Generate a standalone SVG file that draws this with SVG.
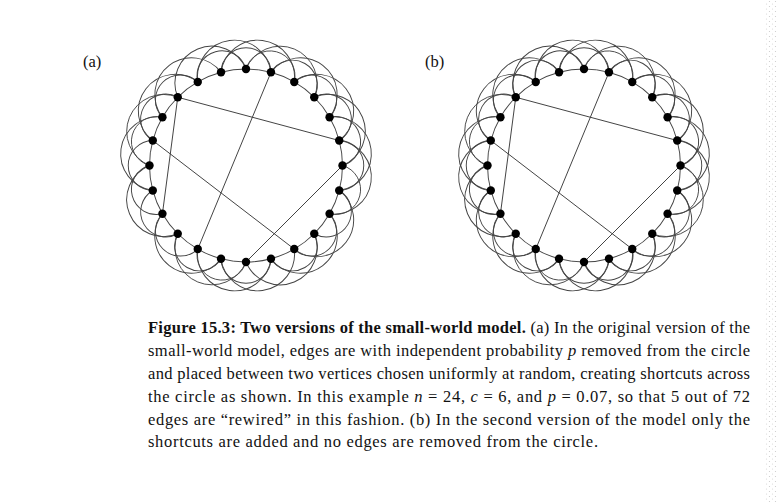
<svg xmlns="http://www.w3.org/2000/svg" xmlns:xlink="http://www.w3.org/1999/xlink" width="778" height="502" viewBox="0 0 778 502">
<style>
.edge{fill:none;stroke:#444;stroke-width:0.95}
.short{fill:none;stroke:#3a3a3a;stroke-width:0.95}
.node{fill:#000}
.lbl{font-family:"Liberation Serif","Times New Roman",serif;font-size:16.5px;fill:#111}
.cap{font-family:"Liberation Serif","Times New Roman",serif;font-size:16.5px;fill:#111}
.b{font-weight:bold}
.i{font-style:italic}
</style>
<defs>
<path id="e1" class="edge" d="M0,-96.5 A96.5,96.5 0 0 1 24.98,-93.21"/>
<path id="e2" class="edge" d="M0,-96.5 A24.98,24.98 0 0 1 48.25,-83.57"/>
<path id="e3" class="edge" d="M0,-96.5 A36.93,36.93 0 0 1 68.24,-68.24"/>
<circle id="dot" r="4.2" class="node"/>
<pattern id="scan" width="6" height="5" patternUnits="userSpaceOnUse">
<circle cx="1.5" cy="1.5" r="0.6" fill="#c8c8c8"/>
<circle cx="4.5" cy="4" r="0.6" fill="#d4d4d4"/>
</pattern>
</defs>
<rect width="778" height="502" fill="#fff"/>
<rect x="764" y="0" width="14" height="502" fill="url(#scan)"/>
<text class="lbl" x="83" y="67">(a)</text>
<text class="lbl" x="425" y="67">(b)</text>

<g id="connectors">
<g id="edges-a" transform="translate(246,165.5)">
<use href="#e1" transform="rotate(0)"/><use href="#e1" transform="rotate(15)"/><use href="#e1" transform="rotate(30)"/><use href="#e1" transform="rotate(45)"/><use href="#e1" transform="rotate(60)"/><use href="#e1" transform="rotate(75)"/><use href="#e1" transform="rotate(90)"/><use href="#e1" transform="rotate(105)"/><use href="#e1" transform="rotate(120)"/><use href="#e1" transform="rotate(135)"/><use href="#e1" transform="rotate(150)"/><use href="#e1" transform="rotate(165)"/><use href="#e1" transform="rotate(180)"/><use href="#e1" transform="rotate(195)"/><use href="#e1" transform="rotate(210)"/><use href="#e1" transform="rotate(225)"/><use href="#e1" transform="rotate(240)"/><use href="#e1" transform="rotate(255)"/><use href="#e1" transform="rotate(270)"/><use href="#e1" transform="rotate(285)"/><use href="#e1" transform="rotate(300)"/><use href="#e1" transform="rotate(315)"/><use href="#e1" transform="rotate(330)"/><use href="#e1" transform="rotate(345)"/>
<use href="#e2" transform="rotate(0)"/><use href="#e2" transform="rotate(15)"/><use href="#e2" transform="rotate(30)"/><use href="#e2" transform="rotate(45)"/><use href="#e2" transform="rotate(60)"/><use href="#e2" transform="rotate(75)"/><use href="#e2" transform="rotate(90)"/><use href="#e2" transform="rotate(105)"/><use href="#e2" transform="rotate(120)"/><use href="#e2" transform="rotate(135)"/><use href="#e2" transform="rotate(165)"/><use href="#e2" transform="rotate(180)"/><use href="#e2" transform="rotate(195)"/><use href="#e2" transform="rotate(210)"/><use href="#e2" transform="rotate(225)"/><use href="#e2" transform="rotate(240)"/><use href="#e2" transform="rotate(255)"/><use href="#e2" transform="rotate(270)"/><use href="#e2" transform="rotate(285)"/><use href="#e2" transform="rotate(300)"/><use href="#e2" transform="rotate(330)"/><use href="#e2" transform="rotate(345)"/>
<use href="#e3" transform="rotate(0)"/><use href="#e3" transform="rotate(15)"/><use href="#e3" transform="rotate(30)"/><use href="#e3" transform="rotate(45)"/><use href="#e3" transform="rotate(60)"/><use href="#e3" transform="rotate(75)"/><use href="#e3" transform="rotate(105)"/><use href="#e3" transform="rotate(120)"/><use href="#e3" transform="rotate(135)"/><use href="#e3" transform="rotate(150)"/><use href="#e3" transform="rotate(165)"/><use href="#e3" transform="rotate(180)"/><use href="#e3" transform="rotate(195)"/><use href="#e3" transform="rotate(225)"/><use href="#e3" transform="rotate(255)"/><use href="#e3" transform="rotate(270)"/><use href="#e3" transform="rotate(285)"/><use href="#e3" transform="rotate(300)"/><use href="#e3" transform="rotate(315)"/><use href="#e3" transform="rotate(330)"/><use href="#e3" transform="rotate(345)"/>
<line class="short" x1="-68.24" y1="-68.24" x2="93.21" y2="-24.98"/>
<line class="short" x1="24.98" y1="-93.21" x2="-48.25" y2="83.57"/>
<line class="short" x1="-93.21" y1="-24.98" x2="48.25" y2="83.57"/>
<line class="short" x1="96.5" y1="0" x2="0" y2="96.5"/>
<line class="short" x1="-83.57" y1="48.25" x2="-68.24" y2="-68.24"/>
</g>
<g id="edges-b" transform="translate(584,165.5)">
<use href="#e1" transform="rotate(0)"/><use href="#e1" transform="rotate(15)"/><use href="#e1" transform="rotate(30)"/><use href="#e1" transform="rotate(45)"/><use href="#e1" transform="rotate(60)"/><use href="#e1" transform="rotate(75)"/><use href="#e1" transform="rotate(90)"/><use href="#e1" transform="rotate(105)"/><use href="#e1" transform="rotate(120)"/><use href="#e1" transform="rotate(135)"/><use href="#e1" transform="rotate(150)"/><use href="#e1" transform="rotate(165)"/><use href="#e1" transform="rotate(180)"/><use href="#e1" transform="rotate(195)"/><use href="#e1" transform="rotate(210)"/><use href="#e1" transform="rotate(225)"/><use href="#e1" transform="rotate(240)"/><use href="#e1" transform="rotate(255)"/><use href="#e1" transform="rotate(270)"/><use href="#e1" transform="rotate(285)"/><use href="#e1" transform="rotate(300)"/><use href="#e1" transform="rotate(315)"/><use href="#e1" transform="rotate(330)"/><use href="#e1" transform="rotate(345)"/>
<use href="#e2" transform="rotate(0)"/><use href="#e2" transform="rotate(15)"/><use href="#e2" transform="rotate(30)"/><use href="#e2" transform="rotate(45)"/><use href="#e2" transform="rotate(60)"/><use href="#e2" transform="rotate(75)"/><use href="#e2" transform="rotate(90)"/><use href="#e2" transform="rotate(105)"/><use href="#e2" transform="rotate(120)"/><use href="#e2" transform="rotate(135)"/><use href="#e2" transform="rotate(150)"/><use href="#e2" transform="rotate(165)"/><use href="#e2" transform="rotate(180)"/><use href="#e2" transform="rotate(195)"/><use href="#e2" transform="rotate(210)"/><use href="#e2" transform="rotate(225)"/><use href="#e2" transform="rotate(240)"/><use href="#e2" transform="rotate(255)"/><use href="#e2" transform="rotate(270)"/><use href="#e2" transform="rotate(285)"/><use href="#e2" transform="rotate(300)"/><use href="#e2" transform="rotate(315)"/><use href="#e2" transform="rotate(330)"/><use href="#e2" transform="rotate(345)"/>
<use href="#e3" transform="rotate(0)"/><use href="#e3" transform="rotate(15)"/><use href="#e3" transform="rotate(30)"/><use href="#e3" transform="rotate(45)"/><use href="#e3" transform="rotate(60)"/><use href="#e3" transform="rotate(75)"/><use href="#e3" transform="rotate(90)"/><use href="#e3" transform="rotate(105)"/><use href="#e3" transform="rotate(120)"/><use href="#e3" transform="rotate(135)"/><use href="#e3" transform="rotate(150)"/><use href="#e3" transform="rotate(165)"/><use href="#e3" transform="rotate(180)"/><use href="#e3" transform="rotate(195)"/><use href="#e3" transform="rotate(210)"/><use href="#e3" transform="rotate(225)"/><use href="#e3" transform="rotate(240)"/><use href="#e3" transform="rotate(255)"/><use href="#e3" transform="rotate(270)"/><use href="#e3" transform="rotate(285)"/><use href="#e3" transform="rotate(300)"/><use href="#e3" transform="rotate(315)"/><use href="#e3" transform="rotate(330)"/><use href="#e3" transform="rotate(345)"/>
<line class="short" x1="-68.24" y1="-68.24" x2="93.21" y2="-24.98"/>
<line class="short" x1="24.98" y1="-93.21" x2="-48.25" y2="83.57"/>
<line class="short" x1="-93.21" y1="-24.98" x2="48.25" y2="83.57"/>
<line class="short" x1="96.5" y1="0" x2="0" y2="96.5"/>
<line class="short" x1="-83.57" y1="48.25" x2="-68.24" y2="-68.24"/>
</g>
</g>

<g id="nodes-a" transform="translate(246,165.5)">
<g id="a-n0"><use href="#dot" x="0" y="-96.5"/></g>
<g id="a-n1"><use href="#dot" x="24.98" y="-93.21"/></g>
<g id="a-n2"><use href="#dot" x="48.25" y="-83.57"/></g>
<g id="a-n3"><use href="#dot" x="68.24" y="-68.24"/></g>
<g id="a-n4"><use href="#dot" x="83.57" y="-48.25"/></g>
<g id="a-n5"><use href="#dot" x="93.21" y="-24.98"/></g>
<g id="a-n6"><use href="#dot" x="96.5" y="0"/></g>
<g id="a-n7"><use href="#dot" x="93.21" y="24.98"/></g>
<g id="a-n8"><use href="#dot" x="83.57" y="48.25"/></g>
<g id="a-n9"><use href="#dot" x="68.24" y="68.24"/></g>
<g id="a-n10"><use href="#dot" x="48.25" y="83.57"/></g>
<g id="a-n11"><use href="#dot" x="24.98" y="93.21"/></g>
<g id="a-n12"><use href="#dot" x="0" y="96.5"/></g>
<g id="a-n13"><use href="#dot" x="-24.98" y="93.21"/></g>
<g id="a-n14"><use href="#dot" x="-48.25" y="83.57"/></g>
<g id="a-n15"><use href="#dot" x="-68.24" y="68.24"/></g>
<g id="a-n16"><use href="#dot" x="-83.57" y="48.25"/></g>
<g id="a-n17"><use href="#dot" x="-93.21" y="24.98"/></g>
<g id="a-n18"><use href="#dot" x="-96.5" y="0"/></g>
<g id="a-n19"><use href="#dot" x="-93.21" y="-24.98"/></g>
<g id="a-n20"><use href="#dot" x="-83.57" y="-48.25"/></g>
<g id="a-n21"><use href="#dot" x="-68.24" y="-68.24"/></g>
<g id="a-n22"><use href="#dot" x="-48.25" y="-83.57"/></g>
<g id="a-n23"><use href="#dot" x="-24.98" y="-93.21"/></g>
</g>
<g id="nodes-b" transform="translate(584,165.5)">
<g id="b-n0"><use href="#dot" x="0" y="-96.5"/></g>
<g id="b-n1"><use href="#dot" x="24.98" y="-93.21"/></g>
<g id="b-n2"><use href="#dot" x="48.25" y="-83.57"/></g>
<g id="b-n3"><use href="#dot" x="68.24" y="-68.24"/></g>
<g id="b-n4"><use href="#dot" x="83.57" y="-48.25"/></g>
<g id="b-n5"><use href="#dot" x="93.21" y="-24.98"/></g>
<g id="b-n6"><use href="#dot" x="96.5" y="0"/></g>
<g id="b-n7"><use href="#dot" x="93.21" y="24.98"/></g>
<g id="b-n8"><use href="#dot" x="83.57" y="48.25"/></g>
<g id="b-n9"><use href="#dot" x="68.24" y="68.24"/></g>
<g id="b-n10"><use href="#dot" x="48.25" y="83.57"/></g>
<g id="b-n11"><use href="#dot" x="24.98" y="93.21"/></g>
<g id="b-n12"><use href="#dot" x="0" y="96.5"/></g>
<g id="b-n13"><use href="#dot" x="-24.98" y="93.21"/></g>
<g id="b-n14"><use href="#dot" x="-48.25" y="83.57"/></g>
<g id="b-n15"><use href="#dot" x="-68.24" y="68.24"/></g>
<g id="b-n16"><use href="#dot" x="-83.57" y="48.25"/></g>
<g id="b-n17"><use href="#dot" x="-93.21" y="24.98"/></g>
<g id="b-n18"><use href="#dot" x="-96.5" y="0"/></g>
<g id="b-n19"><use href="#dot" x="-93.21" y="-24.98"/></g>
<g id="b-n20"><use href="#dot" x="-83.57" y="-48.25"/></g>
<g id="b-n21"><use href="#dot" x="-68.24" y="-68.24"/></g>
<g id="b-n22"><use href="#dot" x="-48.25" y="-83.57"/></g>
<g id="b-n23"><use href="#dot" x="-24.98" y="-93.21"/></g>
</g>

<g id="caption" class="cap">
<text x="148" y="333" textLength="602" lengthAdjust="spacing"><tspan class="b">Figure 15.3: Two versions of the small-world model.</tspan> (a) In the original version of the</text>
<text x="148" y="356" textLength="602" lengthAdjust="spacing">small-world model, edges are with independent probability <tspan class="i">p</tspan> removed from the circle</text>
<text x="148" y="379" textLength="602" lengthAdjust="spacing">and placed between two vertices chosen uniformly at random, creating shortcuts across</text>
<text x="148" y="402" textLength="602" lengthAdjust="spacing">the circle as shown.  In this example <tspan class="i">n</tspan> = 24, <tspan class="i">c</tspan> = 6, and <tspan class="i">p</tspan> = 0.07, so that 5 out of 72</text>
<text x="148" y="425" textLength="602" lengthAdjust="spacing">edges are “rewired” in this fashion.  (b) In the second version of the model only the</text>
<text x="148" y="447" textLength="450" lengthAdjust="spacing">shortcuts are added and no edges are removed from the circle.</text>
</g>
</svg>
